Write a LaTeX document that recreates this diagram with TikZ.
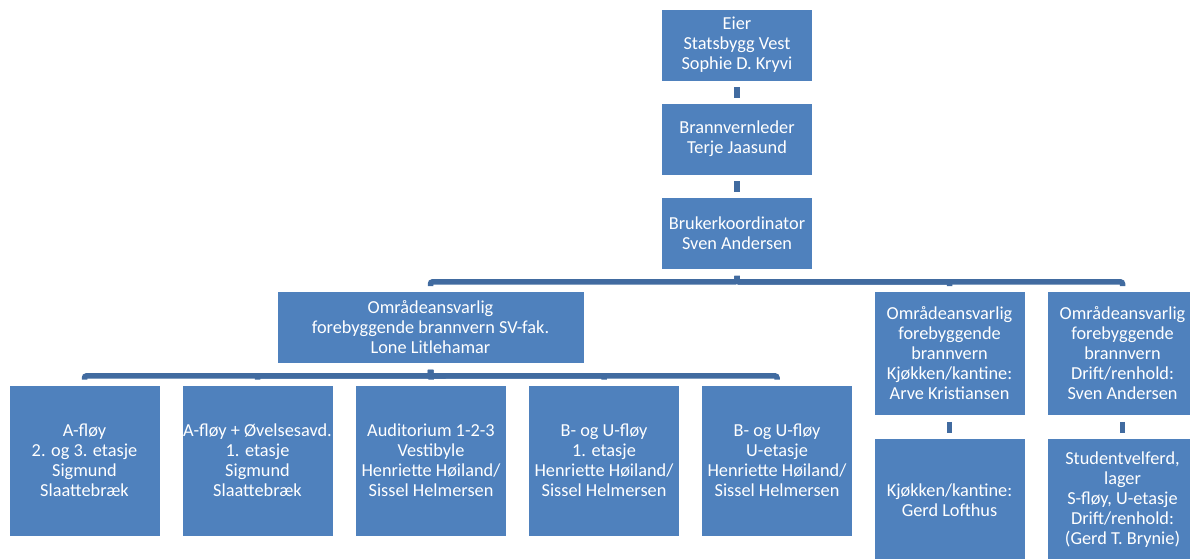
\documentclass[tikz,border=0pt]{standalone}
\usepackage{fontspec}
\setmainfont{Carlito}
\usepackage{tikz}
\definecolor{boxblue}{HTML}{4F81BD}
\definecolor{lineblue}{HTML}{416BA0}

\begin{document}
\begin{tikzpicture}[x=1pt,y=-1pt,
		box/.style = {
			rectangle,minimum width=151pt,minimum height=72pt,
			inner sep=0pt,align=center,
			fill=boxblue,draw=white,line width=0.8pt,
			text=white,font=\fontsize{18.3}{20}\selectfont
		},
		tallbox/.style = {box,minimum height=124pt},
		highbox/.style = {box,minimum height=151pt},
		conn/.style = {draw=lineblue,line width=5.5pt,rounded corners=2pt,
			shorten <=6pt,shorten >=5pt}]
		\useasboundingbox (0,0) rectangle (1190,558);
		\clip (0,0) rectangle (1190,558);
		\node [box] (eier)  at (737,45)    {Eier\\Statsbygg Vest\\Sophie D. Kryvi};
		\node [box] (leder) at (737,139)   {Brannvernleder\\Terje Jaasund};
		\node [box] (koord) at (737,233.5) {Brukerkoordinator\\Sven Andersen};
		\node [box,minimum width=307pt] (sv) at (430.5,327.5)
			{Områdeansvarlig\\forebyggende brannvern SV-fak.\\Lone Litlehamar};
		\node [tallbox] (kjokken) at (949.5,353.5)
			{Områdeansvarlig\\forebyggende\\brannvern\\Kjøkken/kantine:\\Arve Kristiansen};
		\node [tallbox] (drift) at (1122.5,353.5)
			{Områdeansvarlig\\forebyggende\\brannvern\\Drift/renhold:\\Sven Andersen};
		\node [tallbox] (kantine) at (949.5,500) {Kjøkken/kantine:\\Gerd Lofthus};
		\node [tallbox] (student) at (1122.5,500)
			{Studentvelferd,\\lager\\S-fløy, U-etasje\\Drift/renhold:\\(Gerd T. Brynie)};
		\node [highbox] (afloy)  at (84.5,460.5) {A-fløy\\2. og 3. etasje\\Sigmund\\Slaattebræk};
		\node [highbox] (ovelse) at (257.5,460.5) {A-fløy + Øvelsesavd.\\1. etasje\\Sigmund\\Slaattebræk};
		\node [highbox] (aud)    at (431,460.5) {Auditorium 1-2-3\\Vestibyle\\Henriette Høiland/\\Sissel Helmersen};
		\node [highbox] (bfloy)  at (604,460.5) {B- og U-fløy\\1. etasje\\Henriette Høiland/\\Sissel Helmersen};
		\node [highbox] (ufloy)  at (777,460.5) {B- og U-fløy\\U-etasje\\Henriette Høiland/\\Sissel Helmersen};

		\draw [conn] (eier) -- (leder);
		\draw [conn] (leder) -- (koord);
		\foreach \n in {sv,kjokken,drift}
			\draw [conn] (koord.south) -- ++(0,12) -| (\n.north);
		\foreach \n in {afloy,ovelse,aud,bfloy,ufloy}
			\draw [conn] (sv.south) -- ++(0,12) -| (\n.north);
		\draw [conn] (kjokken) -- (kantine);
		\draw [conn] (drift) -- (student);
	\end{tikzpicture}
\end{document}
